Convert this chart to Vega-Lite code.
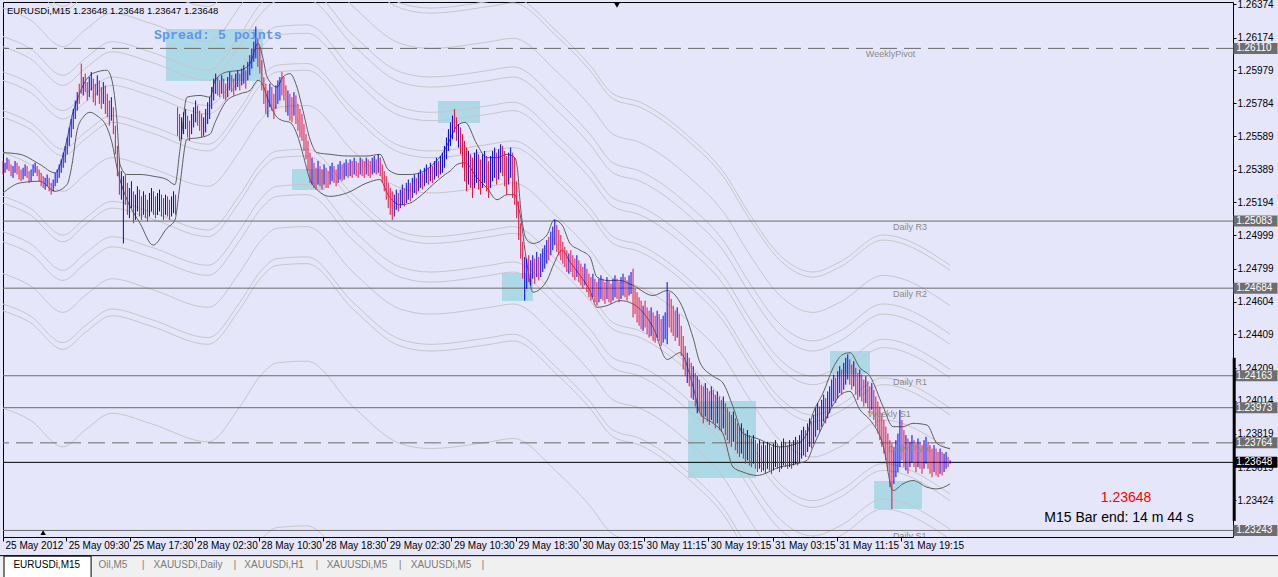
{
  "$schema": "https://vega.github.io/schema/vega-lite/v6.json",
  "width": 1230,
  "height": 535,
  "autosize": {"type": "none"},
  "padding": {"left": 3, "top": 2, "right": 45, "bottom": 40},
  "background": "#E6E6FA",
  "config": {
    "font": "Liberation Sans",
    "view": {"fill": "#E6E6FA", "stroke": "#000000", "strokeWidth": 1},
    "axis": {"labelOverlap": false, "labelFlush": false, "labelBound": false, "title": null, "grid": false}
  },
  "datasets": {
    "bars": [
      {"i":0,"h":1.2544,"l":1.2536,"u":0},{"i":1,"h":1.2543,"l":1.2537,"u":1},{"i":2,"h":1.2546,"l":1.2539,"u":1},{"i":3,"h":1.2545,"l":1.2538,"u":0},
      {"i":4,"h":1.2542,"l":1.2535,"u":0},{"i":5,"h":1.2541,"l":1.2534,"u":1},{"i":6,"h":1.2544,"l":1.2537,"u":1},{"i":7,"h":1.2543,"l":1.2536,"u":0},
      {"i":8,"h":1.2541,"l":1.2533,"u":0},{"i":9,"h":1.2539,"l":1.2532,"u":0},{"i":10,"h":1.2540,"l":1.2533,"u":1},{"i":11,"h":1.2542,"l":1.2535,"u":1},
      {"i":12,"h":1.2541,"l":1.2534,"u":0},{"i":13,"h":1.2538,"l":1.2531,"u":0},{"i":14,"h":1.2539,"l":1.2532,"u":1},{"i":15,"h":1.2542,"l":1.2535,"u":1},
      {"i":16,"h":1.2543,"l":1.2537,"u":1},{"i":17,"h":1.2541,"l":1.2535,"u":0},{"i":18,"h":1.2539,"l":1.2532,"u":0},{"i":19,"h":1.2537,"l":1.2529,"u":0},
      {"i":20,"h":1.2535,"l":1.2528,"u":0},{"i":21,"h":1.2534,"l":1.2527,"u":1},{"i":22,"h":1.2536,"l":1.2529,"u":1},{"i":23,"h":1.2534,"l":1.2526,"u":0},
      {"i":24,"h":1.2531,"l":1.2524,"u":0},{"i":25,"h":1.2533,"l":1.2526,"u":1},{"i":26,"h":1.2537,"l":1.2529,"u":1},{"i":27,"h":1.2539,"l":1.2531,"u":1},
      {"i":28,"h":1.2542,"l":1.2534,"u":1},{"i":29,"h":1.2545,"l":1.2537,"u":1},{"i":30,"h":1.2549,"l":1.2540,"u":1},{"i":31,"h":1.2553,"l":1.2543,"u":1},
      {"i":32,"h":1.2558,"l":1.2548,"u":1},{"i":33,"h":1.2564,"l":1.2553,"u":1},{"i":34,"h":1.2569,"l":1.2558,"u":1},{"i":35,"h":1.2575,"l":1.2563,"u":1},
      {"i":36,"h":1.2580,"l":1.2569,"u":1},{"i":37,"h":1.2585,"l":1.2574,"u":1},{"i":38,"h":1.2590,"l":1.2578,"u":0},{"i":39,"h":1.2602,"l":1.2584,"u":0},
      {"i":40,"h":1.2594,"l":1.2583,"u":1},{"i":41,"h":1.2596,"l":1.2585,"u":0},{"i":42,"h":1.2591,"l":1.2580,"u":0},{"i":43,"h":1.2594,"l":1.2582,"u":1},
      {"i":44,"h":1.2597,"l":1.2586,"u":1},{"i":45,"h":1.2593,"l":1.2579,"u":0},{"i":46,"h":1.2590,"l":1.2577,"u":0},{"i":47,"h":1.2595,"l":1.2583,"u":1},
      {"i":48,"h":1.2592,"l":1.2578,"u":0},{"i":49,"h":1.2588,"l":1.2575,"u":0},{"i":50,"h":1.2591,"l":1.2578,"u":1},{"i":51,"h":1.2589,"l":1.2572,"u":0},
      {"i":52,"h":1.2584,"l":1.2570,"u":0},{"i":53,"h":1.2580,"l":1.2565,"u":0},{"i":54,"h":1.2582,"l":1.2568,"u":1},{"i":55,"h":1.2576,"l":1.2560,"u":0},
      {"i":56,"h":1.2565,"l":1.2548,"u":0},{"i":57,"h":1.2553,"l":1.2535,"u":0},{"i":58,"h":1.2545,"l":1.2524,"u":0},{"i":59,"h":1.2538,"l":1.2521,"u":1},
      {"i":60,"h":1.2535,"l":1.2495,"u":1},{"i":61,"h":1.2536,"l":1.2518,"u":0},{"i":62,"h":1.2531,"l":1.2512,"u":0},{"i":63,"h":1.2528,"l":1.2510,"u":1},
      {"i":64,"h":1.2532,"l":1.2516,"u":1},{"i":65,"h":1.2526,"l":1.2507,"u":0},{"i":66,"h":1.2524,"l":1.2509,"u":1},{"i":67,"h":1.2529,"l":1.2514,"u":1},
      {"i":68,"h":1.2527,"l":1.2511,"u":0},{"i":69,"h":1.2523,"l":1.2509,"u":0},{"i":70,"h":1.2526,"l":1.2512,"u":1},{"i":71,"h":1.2524,"l":1.2510,"u":0},
      {"i":72,"h":1.2521,"l":1.2508,"u":0},{"i":73,"h":1.2525,"l":1.2511,"u":1},{"i":74,"h":1.2528,"l":1.2514,"u":1},{"i":75,"h":1.2526,"l":1.2512,"u":0},
      {"i":76,"h":1.2523,"l":1.2510,"u":0},{"i":77,"h":1.2525,"l":1.2512,"u":1},{"i":78,"h":1.2527,"l":1.2514,"u":1},{"i":79,"h":1.2524,"l":1.2511,"u":0},
      {"i":80,"h":1.2522,"l":1.2509,"u":0},{"i":81,"h":1.2524,"l":1.2512,"u":1},{"i":82,"h":1.2523,"l":1.2511,"u":0},{"i":83,"h":1.2521,"l":1.2509,"u":0},
      {"i":84,"h":1.2523,"l":1.2511,"u":1},{"i":85,"h":1.2526,"l":1.2513,"u":1},{"i":86,"h":1.2524,"l":1.2512,"u":0},{"i":87,"h":1.2576,"l":1.2559,"u":0},
      {"i":88,"h":1.2572,"l":1.2556,"u":0},{"i":89,"h":1.2570,"l":1.2557,"u":1},{"i":90,"h":1.2573,"l":1.2560,"u":1},{"i":91,"h":1.2575,"l":1.2563,"u":1},
      {"i":92,"h":1.2571,"l":1.2558,"u":0},{"i":93,"h":1.2568,"l":1.2556,"u":0},{"i":94,"h":1.2572,"l":1.2560,"u":1},{"i":95,"h":1.2576,"l":1.2564,"u":1},
      {"i":96,"h":1.2580,"l":1.2567,"u":1},{"i":97,"h":1.2577,"l":1.2565,"u":0},{"i":98,"h":1.2574,"l":1.2562,"u":0},{"i":99,"h":1.2572,"l":1.2558,"u":0},
      {"i":100,"h":1.2570,"l":1.2559,"u":1},{"i":101,"h":1.2575,"l":1.2561,"u":1},{"i":102,"h":1.2579,"l":1.2566,"u":1},{"i":103,"h":1.2582,"l":1.2569,"u":1},
      {"i":104,"h":1.2588,"l":1.2575,"u":1},{"i":105,"h":1.2593,"l":1.2580,"u":1},{"i":106,"h":1.2596,"l":1.2584,"u":1},{"i":107,"h":1.2594,"l":1.2583,"u":0},
      {"i":108,"h":1.2592,"l":1.2582,"u":0},{"i":109,"h":1.2595,"l":1.2584,"u":1},{"i":110,"h":1.2593,"l":1.2581,"u":0},{"i":111,"h":1.2590,"l":1.2580,"u":0},
      {"i":112,"h":1.2594,"l":1.2582,"u":1},{"i":113,"h":1.2597,"l":1.2586,"u":1},{"i":114,"h":1.2595,"l":1.2585,"u":0},{"i":115,"h":1.2593,"l":1.2583,"u":0},
      {"i":116,"h":1.2596,"l":1.2586,"u":1},{"i":117,"h":1.2598,"l":1.2588,"u":1},{"i":118,"h":1.2596,"l":1.2586,"u":0},{"i":119,"h":1.2599,"l":1.2589,"u":1},
      {"i":120,"h":1.2601,"l":1.2590,"u":1},{"i":121,"h":1.2598,"l":1.2587,"u":0},{"i":122,"h":1.2603,"l":1.2592,"u":1},{"i":123,"h":1.2607,"l":1.2595,"u":1},
      {"i":124,"h":1.2611,"l":1.2599,"u":1},{"i":125,"h":1.2615,"l":1.2603,"u":1},{"i":126,"h":1.2624,"l":1.2605,"u":1},{"i":127,"h":1.2617,"l":1.2600,"u":0},
      {"i":128,"h":1.2612,"l":1.2596,"u":0},{"i":129,"h":1.2604,"l":1.2586,"u":0},{"i":130,"h":1.2594,"l":1.2578,"u":0},{"i":131,"h":1.2590,"l":1.2572,"u":0},
      {"i":132,"h":1.2586,"l":1.2570,"u":1},{"i":133,"h":1.2590,"l":1.2576,"u":1},{"i":134,"h":1.2588,"l":1.2574,"u":0},{"i":135,"h":1.2584,"l":1.2569,"u":0},
      {"i":136,"h":1.2589,"l":1.2575,"u":1},{"i":137,"h":1.2592,"l":1.2578,"u":1},{"i":138,"h":1.2594,"l":1.2580,"u":1},{"i":139,"h":1.2597,"l":1.2583,"u":0},
      {"i":140,"h":1.2594,"l":1.2580,"u":0},{"i":141,"h":1.2589,"l":1.2573,"u":0},{"i":142,"h":1.2586,"l":1.2571,"u":1},{"i":143,"h":1.2584,"l":1.2568,"u":0},
      {"i":144,"h":1.2582,"l":1.2567,"u":0},{"i":145,"h":1.2585,"l":1.2571,"u":1},{"i":146,"h":1.2583,"l":1.2566,"u":0},{"i":147,"h":1.2578,"l":1.2562,"u":0},
      {"i":148,"h":1.2575,"l":1.2558,"u":0},{"i":149,"h":1.2572,"l":1.2556,"u":0},{"i":150,"h":1.2566,"l":1.2550,"u":0},{"i":151,"h":1.2560,"l":1.2545,"u":0},
      {"i":152,"h":1.2556,"l":1.2538,"u":0},{"i":153,"h":1.2549,"l":1.2531,"u":0},{"i":154,"h":1.2546,"l":1.2530,"u":1},{"i":155,"h":1.2543,"l":1.2528,"u":0},
      {"i":156,"h":1.2540,"l":1.2527,"u":0},{"i":157,"h":1.2544,"l":1.2530,"u":1},{"i":158,"h":1.2541,"l":1.2529,"u":0},{"i":159,"h":1.2539,"l":1.2527,"u":0},
      {"i":160,"h":1.2542,"l":1.2530,"u":1},{"i":161,"h":1.2540,"l":1.2528,"u":0},{"i":162,"h":1.2538,"l":1.2528,"u":0},{"i":163,"h":1.2541,"l":1.2530,"u":1},
      {"i":164,"h":1.2543,"l":1.2532,"u":1},{"i":165,"h":1.2541,"l":1.2531,"u":0},{"i":166,"h":1.2539,"l":1.2529,"u":0},{"i":167,"h":1.2542,"l":1.2531,"u":1},
      {"i":168,"h":1.2544,"l":1.2533,"u":1},{"i":169,"h":1.2542,"l":1.2532,"u":0},{"i":170,"h":1.2543,"l":1.2533,"u":1},{"i":171,"h":1.2545,"l":1.2535,"u":1},
      {"i":172,"h":1.2543,"l":1.2534,"u":0},{"i":173,"h":1.2545,"l":1.2535,"u":1},{"i":174,"h":1.2544,"l":1.2534,"u":0},{"i":175,"h":1.2546,"l":1.2536,"u":1},
      {"i":176,"h":1.2544,"l":1.2535,"u":0},{"i":177,"h":1.2543,"l":1.2534,"u":0},{"i":178,"h":1.2546,"l":1.2536,"u":1},{"i":179,"h":1.2545,"l":1.2535,"u":0},
      {"i":180,"h":1.2544,"l":1.2534,"u":0},{"i":181,"h":1.2546,"l":1.2536,"u":1},{"i":182,"h":1.2545,"l":1.2535,"u":0},{"i":183,"h":1.2544,"l":1.2534,"u":0},
      {"i":184,"h":1.2546,"l":1.2536,"u":1},{"i":185,"h":1.2547,"l":1.2537,"u":1},{"i":186,"h":1.2545,"l":1.2536,"u":0},{"i":187,"h":1.2548,"l":1.2537,"u":1},
      {"i":188,"h":1.2546,"l":1.2535,"u":0},{"i":189,"h":1.2542,"l":1.2531,"u":0},{"i":190,"h":1.2538,"l":1.2526,"u":0},{"i":191,"h":1.2535,"l":1.2521,"u":0},
      {"i":192,"h":1.2531,"l":1.2516,"u":0},{"i":193,"h":1.2528,"l":1.2512,"u":0},{"i":194,"h":1.2526,"l":1.2509,"u":0},{"i":195,"h":1.2524,"l":1.2511,"u":1},
      {"i":196,"h":1.2527,"l":1.2515,"u":1},{"i":197,"h":1.2525,"l":1.2514,"u":0},{"i":198,"h":1.2527,"l":1.2516,"u":1},{"i":199,"h":1.2530,"l":1.2518,"u":1},
      {"i":200,"h":1.2528,"l":1.2517,"u":0},{"i":201,"h":1.2531,"l":1.2519,"u":1},{"i":202,"h":1.2533,"l":1.2521,"u":1},{"i":203,"h":1.2531,"l":1.2520,"u":0},
      {"i":204,"h":1.2534,"l":1.2522,"u":1},{"i":205,"h":1.2536,"l":1.2525,"u":1},{"i":206,"h":1.2534,"l":1.2524,"u":0},{"i":207,"h":1.2537,"l":1.2526,"u":1},
      {"i":208,"h":1.2539,"l":1.2528,"u":1},{"i":209,"h":1.2537,"l":1.2527,"u":0},{"i":210,"h":1.2540,"l":1.2529,"u":1},{"i":211,"h":1.2542,"l":1.2531,"u":1},
      {"i":212,"h":1.2540,"l":1.2530,"u":0},{"i":213,"h":1.2543,"l":1.2532,"u":1},{"i":214,"h":1.2541,"l":1.2531,"u":0},{"i":215,"h":1.2544,"l":1.2533,"u":1},
      {"i":216,"h":1.2546,"l":1.2535,"u":1},{"i":217,"h":1.2544,"l":1.2534,"u":0},{"i":218,"h":1.2547,"l":1.2536,"u":1},{"i":219,"h":1.2549,"l":1.2537,"u":1},
      {"i":220,"h":1.2553,"l":1.2540,"u":1},{"i":221,"h":1.2558,"l":1.2545,"u":1},{"i":222,"h":1.2563,"l":1.2550,"u":1},{"i":223,"h":1.2567,"l":1.2553,"u":1},
      {"i":224,"h":1.2571,"l":1.2557,"u":1},{"i":225,"h":1.2575,"l":1.2561,"u":0},{"i":226,"h":1.2570,"l":1.2556,"u":0},{"i":227,"h":1.2566,"l":1.2552,"u":1},
      {"i":228,"h":1.2564,"l":1.2548,"u":0},{"i":229,"h":1.2560,"l":1.2540,"u":0},{"i":230,"h":1.2556,"l":1.2532,"u":0},{"i":231,"h":1.2552,"l":1.2526,"u":0},
      {"i":232,"h":1.2550,"l":1.2530,"u":1},{"i":233,"h":1.2548,"l":1.2528,"u":0},{"i":234,"h":1.2546,"l":1.2522,"u":0},{"i":235,"h":1.2549,"l":1.2528,"u":1},
      {"i":236,"h":1.2551,"l":1.2531,"u":1},{"i":237,"h":1.2548,"l":1.2527,"u":0},{"i":238,"h":1.2545,"l":1.2524,"u":0},{"i":239,"h":1.2548,"l":1.2528,"u":1},
      {"i":240,"h":1.2550,"l":1.2531,"u":1},{"i":241,"h":1.2547,"l":1.2526,"u":0},{"i":242,"h":1.2544,"l":1.2522,"u":0},{"i":243,"h":1.2547,"l":1.2528,"u":1},
      {"i":244,"h":1.2550,"l":1.2532,"u":1},{"i":245,"h":1.2552,"l":1.2534,"u":1},{"i":246,"h":1.2549,"l":1.2530,"u":0},{"i":247,"h":1.2551,"l":1.2533,"u":1},
      {"i":248,"h":1.2554,"l":1.2537,"u":1},{"i":249,"h":1.2553,"l":1.2535,"u":0},{"i":250,"h":1.2550,"l":1.2529,"u":0},{"i":251,"h":1.2547,"l":1.2524,"u":0},
      {"i":252,"h":1.2549,"l":1.2530,"u":1},{"i":253,"h":1.2552,"l":1.2534,"u":1},{"i":254,"h":1.2549,"l":1.2522,"u":0},{"i":255,"h":1.2546,"l":1.2518,"u":0},
      {"i":256,"h":1.2532,"l":1.2510,"u":0},{"i":257,"h":1.2520,"l":1.2497,"u":0},{"i":258,"h":1.2507,"l":1.2486,"u":0},{"i":259,"h":1.2496,"l":1.2474,"u":0},
      {"i":260,"h":1.2487,"l":1.2461,"u":1},{"i":261,"h":1.2486,"l":1.2468,"u":1},{"i":262,"h":1.2488,"l":1.2472,"u":0},{"i":263,"h":1.2485,"l":1.2470,"u":1},
      {"i":264,"h":1.2488,"l":1.2474,"u":1},{"i":265,"h":1.2486,"l":1.2471,"u":0},{"i":266,"h":1.2490,"l":1.2475,"u":1},{"i":267,"h":1.2487,"l":1.2473,"u":0},
      {"i":268,"h":1.2489,"l":1.2475,"u":1},{"i":269,"h":1.2492,"l":1.2478,"u":1},{"i":270,"h":1.2494,"l":1.2480,"u":1},{"i":271,"h":1.2497,"l":1.2483,"u":1},
      {"i":272,"h":1.2499,"l":1.2485,"u":0},{"i":273,"h":1.2502,"l":1.2488,"u":1},{"i":274,"h":1.2505,"l":1.2491,"u":1},{"i":275,"h":1.2509,"l":1.2494,"u":1},
      {"i":276,"h":1.2506,"l":1.2490,"u":0},{"i":277,"h":1.2503,"l":1.2488,"u":0},{"i":278,"h":1.2500,"l":1.2485,"u":0},{"i":279,"h":1.2496,"l":1.2483,"u":0},
      {"i":280,"h":1.2493,"l":1.2481,"u":0},{"i":281,"h":1.2491,"l":1.2478,"u":0},{"i":282,"h":1.2489,"l":1.2477,"u":1},{"i":283,"h":1.2491,"l":1.2478,"u":0},
      {"i":284,"h":1.2488,"l":1.2475,"u":0},{"i":285,"h":1.2486,"l":1.2473,"u":0},{"i":286,"h":1.2488,"l":1.2475,"u":1},{"i":287,"h":1.2485,"l":1.2472,"u":0},
      {"i":288,"h":1.2483,"l":1.2470,"u":0},{"i":289,"h":1.2481,"l":1.2468,"u":0},{"i":290,"h":1.2483,"l":1.2470,"u":1},{"i":291,"h":1.2480,"l":1.2466,"u":0},
      {"i":292,"h":1.2477,"l":1.2463,"u":0},{"i":293,"h":1.2475,"l":1.2461,"u":0},{"i":294,"h":1.2477,"l":1.2463,"u":1},{"i":295,"h":1.2474,"l":1.2460,"u":0},
      {"i":296,"h":1.2472,"l":1.2458,"u":0},{"i":297,"h":1.2474,"l":1.2460,"u":1},{"i":298,"h":1.2476,"l":1.2462,"u":1},{"i":299,"h":1.2474,"l":1.2461,"u":0},
      {"i":300,"h":1.2472,"l":1.2459,"u":0},{"i":301,"h":1.2475,"l":1.2462,"u":1},{"i":302,"h":1.2473,"l":1.2460,"u":0},{"i":303,"h":1.2471,"l":1.2459,"u":0},
      {"i":304,"h":1.2474,"l":1.2461,"u":1},{"i":305,"h":1.2476,"l":1.2463,"u":1},{"i":306,"h":1.2474,"l":1.2462,"u":0},{"i":307,"h":1.2472,"l":1.2460,"u":0},
      {"i":308,"h":1.2475,"l":1.2462,"u":1},{"i":309,"h":1.2477,"l":1.2464,"u":1},{"i":310,"h":1.2475,"l":1.2463,"u":0},{"i":311,"h":1.2473,"l":1.2461,"u":0},
      {"i":312,"h":1.2476,"l":1.2464,"u":1},{"i":313,"h":1.2478,"l":1.2465,"u":1},{"i":314,"h":1.2480,"l":1.2451,"u":0},{"i":315,"h":1.2468,"l":1.2453,"u":0},
      {"i":316,"h":1.2466,"l":1.2448,"u":0},{"i":317,"h":1.2463,"l":1.2446,"u":0},{"i":318,"h":1.2461,"l":1.2444,"u":0},{"i":319,"h":1.2458,"l":1.2443,"u":1},
      {"i":320,"h":1.2461,"l":1.2445,"u":0},{"i":321,"h":1.2457,"l":1.2441,"u":0},{"i":322,"h":1.2455,"l":1.2439,"u":0},{"i":323,"h":1.2457,"l":1.2440,"u":1},
      {"i":324,"h":1.2454,"l":1.2437,"u":0},{"i":325,"h":1.2452,"l":1.2436,"u":0},{"i":326,"h":1.2455,"l":1.2439,"u":1},{"i":327,"h":1.2453,"l":1.2437,"u":0},
      {"i":328,"h":1.2450,"l":1.2434,"u":0},{"i":329,"h":1.2452,"l":1.2436,"u":1},{"i":330,"h":1.2454,"l":1.2438,"u":1},{"i":331,"h":1.2472,"l":1.2435,"u":1},
      {"i":332,"h":1.2466,"l":1.2445,"u":0},{"i":333,"h":1.2462,"l":1.2442,"u":0},{"i":334,"h":1.2458,"l":1.2440,"u":0},{"i":335,"h":1.2455,"l":1.2437,"u":0},
      {"i":336,"h":1.2457,"l":1.2439,"u":1},{"i":337,"h":1.2453,"l":1.2434,"u":0},{"i":338,"h":1.2446,"l":1.2428,"u":0},{"i":339,"h":1.2440,"l":1.2420,"u":0},
      {"i":340,"h":1.2434,"l":1.2416,"u":0},{"i":341,"h":1.2430,"l":1.2412,"u":1},{"i":342,"h":1.2427,"l":1.2410,"u":0},{"i":343,"h":1.2424,"l":1.2403,"u":0},
      {"i":344,"h":1.2422,"l":1.2402,"u":1},{"i":345,"h":1.2418,"l":1.2398,"u":0},{"i":346,"h":1.2416,"l":1.2394,"u":1},{"i":347,"h":1.2414,"l":1.2395,"u":0},
      {"i":348,"h":1.2411,"l":1.2392,"u":0},{"i":349,"h":1.2410,"l":1.2388,"u":0},{"i":350,"h":1.2412,"l":1.2392,"u":1},{"i":351,"h":1.2409,"l":1.2389,"u":0},
      {"i":352,"h":1.2407,"l":1.2387,"u":0},{"i":353,"h":1.2410,"l":1.2390,"u":1},{"i":354,"h":1.2408,"l":1.2388,"u":0},{"i":355,"h":1.2405,"l":1.2385,"u":0},
      {"i":356,"h":1.2407,"l":1.2388,"u":1},{"i":357,"h":1.2404,"l":1.2384,"u":0},{"i":358,"h":1.2402,"l":1.2383,"u":0},{"i":359,"h":1.2404,"l":1.2385,"u":1},
      {"i":360,"h":1.2400,"l":1.2381,"u":0},{"i":361,"h":1.2397,"l":1.2378,"u":0},{"i":362,"h":1.2395,"l":1.2376,"u":0},{"i":363,"h":1.2393,"l":1.2374,"u":0},
      {"i":364,"h":1.2395,"l":1.2377,"u":1},{"i":365,"h":1.2391,"l":1.2372,"u":0},{"i":366,"h":1.2388,"l":1.2370,"u":0},{"i":367,"h":1.2386,"l":1.2368,"u":0},
      {"i":368,"h":1.2388,"l":1.2370,"u":1},{"i":369,"h":1.2385,"l":1.2367,"u":0},{"i":370,"h":1.2382,"l":1.2364,"u":0},{"i":371,"h":1.2384,"l":1.2366,"u":1},
      {"i":372,"h":1.2381,"l":1.2363,"u":0},{"i":373,"h":1.2379,"l":1.2362,"u":0},{"i":374,"h":1.2381,"l":1.2364,"u":1},{"i":375,"h":1.2378,"l":1.2361,"u":0},
      {"i":376,"h":1.2376,"l":1.2359,"u":0},{"i":377,"h":1.2378,"l":1.2361,"u":1},{"i":378,"h":1.2375,"l":1.2359,"u":0},{"i":379,"h":1.2377,"l":1.2360,"u":1},
      {"i":380,"h":1.2375,"l":1.2358,"u":0},{"i":381,"h":1.2377,"l":1.2361,"u":1},{"i":382,"h":1.2376,"l":1.2360,"u":0},{"i":383,"h":1.2374,"l":1.2358,"u":0},
      {"i":384,"h":1.2376,"l":1.2360,"u":1},{"i":385,"h":1.2378,"l":1.2362,"u":1},{"i":386,"h":1.2376,"l":1.2361,"u":0},{"i":387,"h":1.2374,"l":1.2359,"u":0},
      {"i":388,"h":1.2377,"l":1.2361,"u":1},{"i":389,"h":1.2379,"l":1.2363,"u":1},{"i":390,"h":1.2377,"l":1.2362,"u":0},{"i":391,"h":1.2375,"l":1.2361,"u":0},
      {"i":392,"h":1.2378,"l":1.2362,"u":1},{"i":393,"h":1.2376,"l":1.2361,"u":0},{"i":394,"h":1.2378,"l":1.2363,"u":1},{"i":395,"h":1.2380,"l":1.2364,"u":1},
      {"i":396,"h":1.2378,"l":1.2363,"u":0},{"i":397,"h":1.2381,"l":1.2365,"u":1},{"i":398,"h":1.2384,"l":1.2367,"u":1},{"i":399,"h":1.2386,"l":1.2369,"u":1},
      {"i":400,"h":1.2384,"l":1.2368,"u":0},{"i":401,"h":1.2388,"l":1.2371,"u":1},{"i":402,"h":1.2391,"l":1.2374,"u":1},{"i":403,"h":1.2389,"l":1.2373,"u":0},
      {"i":404,"h":1.2393,"l":1.2376,"u":1},{"i":405,"h":1.2397,"l":1.2380,"u":1},{"i":406,"h":1.2400,"l":1.2384,"u":1},{"i":407,"h":1.2398,"l":1.2383,"u":0},
      {"i":408,"h":1.2402,"l":1.2386,"u":1},{"i":409,"h":1.2405,"l":1.2389,"u":1},{"i":410,"h":1.2403,"l":1.2388,"u":0},{"i":411,"h":1.2407,"l":1.2391,"u":1},
      {"i":412,"h":1.2410,"l":1.2394,"u":1},{"i":413,"h":1.2414,"l":1.2398,"u":1},{"i":414,"h":1.2417,"l":1.2401,"u":1},{"i":415,"h":1.2415,"l":1.2400,"u":0},
      {"i":416,"h":1.2419,"l":1.2403,"u":1},{"i":417,"h":1.2422,"l":1.2406,"u":1},{"i":418,"h":1.2420,"l":1.2405,"u":0},{"i":419,"h":1.2424,"l":1.2408,"u":1},
      {"i":420,"h":1.2427,"l":1.2411,"u":1},{"i":421,"h":1.2429,"l":1.2414,"u":1},{"i":422,"h":1.2426,"l":1.2411,"u":0},{"i":423,"h":1.2423,"l":1.2408,"u":0},
      {"i":424,"h":1.2425,"l":1.2410,"u":1},{"i":425,"h":1.2421,"l":1.2405,"u":0},{"i":426,"h":1.2418,"l":1.2402,"u":0},{"i":427,"h":1.2420,"l":1.2404,"u":1},
      {"i":428,"h":1.2417,"l":1.2401,"u":0},{"i":429,"h":1.2414,"l":1.2398,"u":0},{"i":430,"h":1.2416,"l":1.2400,"u":1},{"i":431,"h":1.2413,"l":1.2397,"u":0},
      {"i":432,"h":1.2410,"l":1.2394,"u":0},{"i":433,"h":1.2412,"l":1.2396,"u":1},{"i":434,"h":1.2408,"l":1.2390,"u":0},{"i":435,"h":1.2404,"l":1.2386,"u":0},
      {"i":436,"h":1.2401,"l":1.2382,"u":0},{"i":437,"h":1.2398,"l":1.2378,"u":0},{"i":438,"h":1.2394,"l":1.2374,"u":0},{"i":439,"h":1.2390,"l":1.2370,"u":0},
      {"i":440,"h":1.2386,"l":1.2366,"u":0},{"i":441,"h":1.2382,"l":1.2360,"u":0},{"i":442,"h":1.2378,"l":1.2350,"u":0},{"i":443,"h":1.2376,"l":1.2337,"u":0},
      {"i":444,"h":1.2374,"l":1.2352,"u":1},{"i":445,"h":1.2378,"l":1.2356,"u":1},{"i":446,"h":1.2382,"l":1.2359,"u":1},{"i":447,"h":1.2396,"l":1.2362,"u":1},
      {"i":448,"h":1.2390,"l":1.2366,"u":0},{"i":449,"h":1.2384,"l":1.2362,"u":0},{"i":450,"h":1.2381,"l":1.2360,"u":1},{"i":451,"h":1.2379,"l":1.2358,"u":0},
      {"i":452,"h":1.2377,"l":1.2362,"u":1},{"i":453,"h":1.2381,"l":1.2365,"u":1},{"i":454,"h":1.2378,"l":1.2362,"u":0},{"i":455,"h":1.2376,"l":1.2359,"u":0},
      {"i":456,"h":1.2379,"l":1.2362,"u":1},{"i":457,"h":1.2377,"l":1.2361,"u":0},{"i":458,"h":1.2375,"l":1.2358,"u":0},{"i":459,"h":1.2378,"l":1.2361,"u":1},
      {"i":460,"h":1.2380,"l":1.2364,"u":1},{"i":461,"h":1.2377,"l":1.2361,"u":0},{"i":462,"h":1.2375,"l":1.2358,"u":0},{"i":463,"h":1.2373,"l":1.2356,"u":0},
      {"i":464,"h":1.2375,"l":1.2359,"u":1},{"i":465,"h":1.2373,"l":1.2357,"u":0},{"i":466,"h":1.2371,"l":1.2356,"u":0},{"i":467,"h":1.2373,"l":1.2358,"u":1},
      {"i":468,"h":1.2371,"l":1.2357,"u":0},{"i":469,"h":1.2370,"l":1.2359,"u":1},{"i":470,"h":1.2371,"l":1.2361,"u":1},{"i":471,"h":1.2368,"l":1.2362,"u":0},
      {"i":472,"h":1.2366,"l":1.2364,"u":1}
    ],
    "env": [
      {"i":0,"e0":1.2659,"e1":1.2656,"e2":1.2635,"e3":1.2618,"e4":1.2612,"e5":1.2597,"e6":1.2592,"e7":1.2574,"e8":1.2570,"e9":1.2549,"e10":1.2523,"e11":1.2519,"e12":1.2502,"e13":1.2496,"e14":1.2477,"e15":1.2459,"e16":1.2455,"e17":1.2397,"e18":1.2299},
      {"i":13.5,"e0":1.2652,"e1":1.2649,"e2":1.2628,"e3":1.2611,"e4":1.2605,"e5":1.2590,"e6":1.2585,"e7":1.2567,"e8":1.2563,"e9":1.2542,"e10":1.2516,"e11":1.2512,"e12":1.2495,"e13":1.2489,"e14":1.2470,"e15":1.2452,"e16":1.2448,"e17":1.2390,"e18":1.2292},
      {"i":29.9,"e0":1.2636,"e1":1.2633,"e2":1.2612,"e3":1.2595,"e4":1.2589,"e5":1.2574,"e6":1.2569,"e7":1.2551,"e8":1.2547,"e9":1.2526,"e10":1.2500,"e11":1.2496,"e12":1.2479,"e13":1.2473,"e14":1.2454,"e15":1.2436,"e16":1.2432,"e17":1.2374,"e18":1.2276},
      {"i":40.9,"e0":1.2646,"e1":1.2643,"e2":1.2622,"e3":1.2605,"e4":1.2599,"e5":1.2584,"e6":1.2579,"e7":1.2561,"e8":1.2557,"e9":1.2536,"e10":1.2510,"e11":1.2506,"e12":1.2489,"e13":1.2483,"e14":1.2464,"e15":1.2446,"e16":1.2442,"e17":1.2384,"e18":1.2286},
      {"i":54.3,"e0":1.2656,"e1":1.2653,"e2":1.2632,"e3":1.2615,"e4":1.2609,"e5":1.2594,"e6":1.2589,"e7":1.2571,"e8":1.2567,"e9":1.2546,"e10":1.2520,"e11":1.2516,"e12":1.2499,"e13":1.2493,"e14":1.2474,"e15":1.2456,"e16":1.2452,"e17":1.2394,"e18":1.2296},
      {"i":73.3,"e0":1.2650,"e1":1.2647,"e2":1.2626,"e3":1.2609,"e4":1.2603,"e5":1.2588,"e6":1.2583,"e7":1.2565,"e8":1.2561,"e9":1.2540,"e10":1.2514,"e11":1.2510,"e12":1.2493,"e13":1.2487,"e14":1.2468,"e15":1.2450,"e16":1.2446,"e17":1.2388,"e18":1.2290},
      {"i":102.2,"e0":1.2639,"e1":1.2636,"e2":1.2615,"e3":1.2598,"e4":1.2592,"e5":1.2577,"e6":1.2572,"e7":1.2554,"e8":1.2550,"e9":1.2529,"e10":1.2503,"e11":1.2499,"e12":1.2482,"e13":1.2476,"e14":1.2457,"e15":1.2439,"e16":1.2435,"e17":1.2377,"e18":1.2279},
      {"i":118.1,"e0":1.2660,"e1":1.2657,"e2":1.2636,"e3":1.2619,"e4":1.2613,"e5":1.2598,"e6":1.2593,"e7":1.2575,"e8":1.2571,"e9":1.2550,"e10":1.2524,"e11":1.2520,"e12":1.2503,"e13":1.2497,"e14":1.2478,"e15":1.2460,"e16":1.2456,"e17":1.2398,"e18":1.2300},
      {"i":128.1,"e0":1.2678,"e1":1.2675,"e2":1.2654,"e3":1.2637,"e4":1.2631,"e5":1.2616,"e6":1.2611,"e7":1.2593,"e8":1.2589,"e9":1.2568,"e10":1.2542,"e11":1.2538,"e12":1.2521,"e13":1.2515,"e14":1.2496,"e15":1.2478,"e16":1.2474,"e17":1.2416,"e18":1.2318},
      {"i":136.6,"e0":1.2686,"e1":1.2683,"e2":1.2662,"e3":1.2645,"e4":1.2639,"e5":1.2624,"e6":1.2619,"e7":1.2601,"e8":1.2597,"e9":1.2576,"e10":1.2550,"e11":1.2546,"e12":1.2529,"e13":1.2523,"e14":1.2504,"e15":1.2486,"e16":1.2482,"e17":1.2424,"e18":1.2326},
      {"i":151.5,"e0":1.2687,"e1":1.2684,"e2":1.2663,"e3":1.2646,"e4":1.2640,"e5":1.2625,"e6":1.2620,"e7":1.2602,"e8":1.2598,"e9":1.2577,"e10":1.2551,"e11":1.2547,"e12":1.2530,"e13":1.2524,"e14":1.2505,"e15":1.2487,"e16":1.2483,"e17":1.2425,"e18":1.2327},
      {"i":174.4,"e0":1.2660,"e1":1.2657,"e2":1.2636,"e3":1.2619,"e4":1.2613,"e5":1.2598,"e6":1.2593,"e7":1.2575,"e8":1.2571,"e9":1.2550,"e10":1.2524,"e11":1.2520,"e12":1.2503,"e13":1.2497,"e14":1.2478,"e15":1.2460,"e16":1.2456,"e17":1.2398,"e18":1.2300},
      {"i":197.9,"e0":1.2638,"e1":1.2635,"e2":1.2614,"e3":1.2597,"e4":1.2591,"e5":1.2576,"e6":1.2571,"e7":1.2553,"e8":1.2549,"e9":1.2528,"e10":1.2502,"e11":1.2498,"e12":1.2481,"e13":1.2475,"e14":1.2456,"e15":1.2438,"e16":1.2434,"e17":1.2376,"e18":1.2278},
      {"i":212.8,"e0":1.2635,"e1":1.2632,"e2":1.2611,"e3":1.2594,"e4":1.2588,"e5":1.2573,"e6":1.2568,"e7":1.2550,"e8":1.2546,"e9":1.2525,"e10":1.2499,"e11":1.2495,"e12":1.2478,"e13":1.2472,"e14":1.2453,"e15":1.2435,"e16":1.2431,"e17":1.2373,"e18":1.2275},
      {"i":242.7,"e0":1.2639,"e1":1.2636,"e2":1.2615,"e3":1.2598,"e4":1.2592,"e5":1.2577,"e6":1.2572,"e7":1.2554,"e8":1.2550,"e9":1.2529,"e10":1.2503,"e11":1.2499,"e12":1.2482,"e13":1.2476,"e14":1.2457,"e15":1.2439,"e16":1.2435,"e17":1.2377,"e18":1.2279},
      {"i":254.2,"e0":1.2641,"e1":1.2638,"e2":1.2617,"e3":1.2600,"e4":1.2594,"e5":1.2579,"e6":1.2574,"e7":1.2556,"e8":1.2552,"e9":1.2531,"e10":1.2505,"e11":1.2501,"e12":1.2484,"e13":1.2478,"e14":1.2459,"e15":1.2441,"e16":1.2437,"e17":1.2379,"e18":1.2281},
      {"i":276.1,"e0":1.2621,"e1":1.2618,"e2":1.2597,"e3":1.2580,"e4":1.2574,"e5":1.2559,"e6":1.2554,"e7":1.2536,"e8":1.2532,"e9":1.2511,"e10":1.2485,"e11":1.2481,"e12":1.2464,"e13":1.2458,"e14":1.2439,"e15":1.2421,"e16":1.2417,"e17":1.2359,"e18":1.2261},
      {"i":292.5,"e0":1.2601,"e1":1.2598,"e2":1.2577,"e3":1.2560,"e4":1.2554,"e5":1.2539,"e6":1.2534,"e7":1.2516,"e8":1.2512,"e9":1.2491,"e10":1.2465,"e11":1.2461,"e12":1.2444,"e13":1.2438,"e14":1.2419,"e15":1.2401,"e16":1.2397,"e17":1.2339,"e18":1.2241},
      {"i":304,"e0":1.2584,"e1":1.2581,"e2":1.2560,"e3":1.2543,"e4":1.2537,"e5":1.2522,"e6":1.2517,"e7":1.2499,"e8":1.2495,"e9":1.2474,"e10":1.2448,"e11":1.2444,"e12":1.2427,"e13":1.2421,"e14":1.2402,"e15":1.2384,"e16":1.2380,"e17":1.2322,"e18":1.2224},
      {"i":317.5,"e0":1.2579,"e1":1.2576,"e2":1.2555,"e3":1.2538,"e4":1.2532,"e5":1.2517,"e6":1.2512,"e7":1.2494,"e8":1.2490,"e9":1.2469,"e10":1.2443,"e11":1.2439,"e12":1.2422,"e13":1.2416,"e14":1.2397,"e15":1.2379,"e16":1.2375,"e17":1.2317,"e18":1.2219},
      {"i":342.4,"e0":1.2558,"e1":1.2555,"e2":1.2534,"e3":1.2517,"e4":1.2511,"e5":1.2496,"e6":1.2491,"e7":1.2473,"e8":1.2469,"e9":1.2448,"e10":1.2422,"e11":1.2418,"e12":1.2401,"e13":1.2395,"e14":1.2376,"e15":1.2358,"e16":1.2354,"e17":1.2296,"e18":1.2198},
      {"i":358.8,"e0":1.2538,"e1":1.2535,"e2":1.2514,"e3":1.2497,"e4":1.2491,"e5":1.2476,"e6":1.2471,"e7":1.2453,"e8":1.2449,"e9":1.2428,"e10":1.2402,"e11":1.2398,"e12":1.2381,"e13":1.2375,"e14":1.2356,"e15":1.2338,"e16":1.2334,"e17":1.2276,"e18":1.2178},
      {"i":372.3,"e0":1.2512,"e1":1.2509,"e2":1.2488,"e3":1.2471,"e4":1.2465,"e5":1.2450,"e6":1.2445,"e7":1.2427,"e8":1.2423,"e9":1.2402,"e10":1.2376,"e11":1.2372,"e12":1.2355,"e13":1.2349,"e14":1.2330,"e15":1.2312,"e16":1.2308,"e17":1.2250,"e18":1.2152},
      {"i":387.2,"e0":1.2488,"e1":1.2485,"e2":1.2464,"e3":1.2447,"e4":1.2441,"e5":1.2426,"e6":1.2421,"e7":1.2403,"e8":1.2399,"e9":1.2378,"e10":1.2352,"e11":1.2348,"e12":1.2331,"e13":1.2325,"e14":1.2306,"e15":1.2288,"e16":1.2284,"e17":1.2226,"e18":1.2128},
      {"i":403.7,"e0":1.2478,"e1":1.2475,"e2":1.2454,"e3":1.2437,"e4":1.2431,"e5":1.2416,"e6":1.2411,"e7":1.2393,"e8":1.2389,"e9":1.2368,"e10":1.2342,"e11":1.2338,"e12":1.2321,"e13":1.2315,"e14":1.2296,"e15":1.2278,"e16":1.2274,"e17":1.2216,"e18":1.2118},
      {"i":417.1,"e0":1.2484,"e1":1.2481,"e2":1.2460,"e3":1.2443,"e4":1.2437,"e5":1.2422,"e6":1.2417,"e7":1.2399,"e8":1.2395,"e9":1.2374,"e10":1.2348,"e11":1.2344,"e12":1.2327,"e13":1.2321,"e14":1.2302,"e15":1.2284,"e16":1.2280,"e17":1.2222,"e18":1.2124},
      {"i":438.6,"e0":1.2500,"e1":1.2497,"e2":1.2476,"e3":1.2459,"e4":1.2453,"e5":1.2438,"e6":1.2433,"e7":1.2415,"e8":1.2411,"e9":1.2390,"e10":1.2364,"e11":1.2360,"e12":1.2343,"e13":1.2337,"e14":1.2318,"e15":1.2300,"e16":1.2296,"e17":1.2238,"e18":1.2140},
      {"i":472,"e0":1.2482,"e1":1.2479,"e2":1.2458,"e3":1.2441,"e4":1.2435,"e5":1.2420,"e6":1.2415,"e7":1.2397,"e8":1.2393,"e9":1.2372,"e10":1.2346,"e11":1.2342,"e12":1.2325,"e13":1.2319,"e14":1.2300,"e15":1.2282,"e16":1.2278,"e17":1.2220,"e18":1.2122}
    ],
    "band": [
      {"i":0,"up":1.2549,"lo":1.2525},{"i":8.5,"up":1.2548,"lo":1.2531},{"i":18.4,"up":1.2542,"lo":1.2532},{"i":25.9,"up":1.2537,"lo":1.2526},
      {"i":31.9,"up":1.2557,"lo":1.2530},{"i":34.4,"up":1.2571,"lo":1.2542},{"i":36.9,"up":1.2580,"lo":1.2562},{"i":39.9,"up":1.2589,"lo":1.2570},
      {"i":43.4,"up":1.2595,"lo":1.2573},{"i":46.8,"up":1.2597,"lo":1.2571},{"i":51.8,"up":1.2598,"lo":1.2564},{"i":54.3,"up":1.2592,"lo":1.2555},
      {"i":56.8,"up":1.2568,"lo":1.2540},{"i":58.3,"up":1.2542,"lo":1.2533},{"i":61.8,"up":1.2536,"lo":1.2521},{"i":68.3,"up":1.2536,"lo":1.2507},
      {"i":74.8,"up":1.2535,"lo":1.2494},{"i":81.7,"up":1.2533,"lo":1.2504},{"i":85.7,"up":1.2530,"lo":1.2509},{"i":88.2,"up":1.2551,"lo":1.2530},
      {"i":91.7,"up":1.2582,"lo":1.2557},{"i":98.2,"up":1.2583,"lo":1.2558},{"i":103.2,"up":1.2582,"lo":1.2560},{"i":105.7,"up":1.2592,"lo":1.2567},
      {"i":111.6,"up":1.2597,"lo":1.2580},{"i":118.1,"up":1.2598,"lo":1.2584},{"i":123.1,"up":1.2602,"lo":1.2586},{"i":127.1,"up":1.2614,"lo":1.2592},
      {"i":129.6,"up":1.2605,"lo":1.2589},{"i":131.6,"up":1.2594,"lo":1.2582},{"i":136.6,"up":1.2588,"lo":1.2570},{"i":139.5,"up":1.2594,"lo":1.2568},
      {"i":143,"up":1.2596,"lo":1.2567},{"i":146.5,"up":1.2588,"lo":1.2560},{"i":149.5,"up":1.2574,"lo":1.2548},{"i":153,"up":1.2557,"lo":1.2533},
      {"i":156.5,"up":1.2549,"lo":1.2527},{"i":163,"up":1.2548,"lo":1.2523},{"i":171.4,"up":1.2547,"lo":1.2525},{"i":181.4,"up":1.2547,"lo":1.2531},
      {"i":187.9,"up":1.2548,"lo":1.2533},{"i":191.9,"up":1.2539,"lo":1.2524},{"i":197.9,"up":1.2536,"lo":1.2518},{"i":202.8,"up":1.2536,"lo":1.2519},
      {"i":207.8,"up":1.2537,"lo":1.2523},{"i":214.3,"up":1.2542,"lo":1.2530},{"i":220.3,"up":1.2551,"lo":1.2536},{"i":222.8,"up":1.2557,"lo":1.2538},
      {"i":226.3,"up":1.2565,"lo":1.2542},{"i":230.3,"up":1.2567,"lo":1.2543},{"i":236.2,"up":1.2554,"lo":1.2534},{"i":241.2,"up":1.2546,"lo":1.2528},
      {"i":246.2,"up":1.2546,"lo":1.2521},{"i":251.2,"up":1.2548,"lo":1.2524},{"i":255.1,"up":1.2546,"lo":1.2524},{"i":256.6,"up":1.2537,"lo":1.2518},
      {"i":257.6,"up":1.2521,"lo":1.2513},{"i":261.1,"up":1.2497,"lo":1.2483},{"i":264.1,"up":1.2495,"lo":1.2466},{"i":271.1,"up":1.2500,"lo":1.2473},
      {"i":274.6,"up":1.2509,"lo":1.2483},{"i":278.6,"up":1.2506,"lo":1.2491},{"i":282.6,"up":1.2495,"lo":1.2484},{"i":287.6,"up":1.2491,"lo":1.2476},
      {"i":292.5,"up":1.2487,"lo":1.2467},{"i":296,"up":1.2475,"lo":1.2457},{"i":301,"up":1.2473,"lo":1.2458},{"i":307.5,"up":1.2473,"lo":1.2461},
      {"i":314,"up":1.2470,"lo":1.2459},{"i":324,"up":1.2464,"lo":1.2445},{"i":331,"up":1.2467,"lo":1.2426},{"i":337.4,"up":1.2460,"lo":1.2430},
      {"i":343.9,"up":1.2439,"lo":1.2410},{"i":347.4,"up":1.2424,"lo":1.2394},{"i":353.9,"up":1.2416,"lo":1.2388},{"i":358.8,"up":1.2412,"lo":1.2382},
      {"i":363.8,"up":1.2398,"lo":1.2362},{"i":368.8,"up":1.2382,"lo":1.2359},{"i":375.8,"up":1.2379,"lo":1.2357},{"i":387.2,"up":1.2374,"lo":1.2362},
      {"i":395.7,"up":1.2376,"lo":1.2364},{"i":400.7,"up":1.2382,"lo":1.2366},{"i":403.7,"up":1.2394,"lo":1.2374},{"i":408.7,"up":1.2406,"lo":1.2387},
      {"i":413.7,"up":1.2421,"lo":1.2399},{"i":418.6,"up":1.2429,"lo":1.2406},{"i":422.1,"up":1.2430,"lo":1.2407},{"i":427.1,"up":1.2421,"lo":1.2396},
      {"i":432.1,"up":1.2416,"lo":1.2390},{"i":438.6,"up":1.2398,"lo":1.2375},{"i":443.6,"up":1.2386,"lo":1.2348},{"i":448.5,"up":1.2386,"lo":1.2352},
      {"i":453.5,"up":1.2388,"lo":1.2354},{"i":460.5,"up":1.2387,"lo":1.2350},{"i":465.5,"up":1.2376,"lo":1.2349},{"i":472,"up":1.2373,"lo":1.2352}
    ],
    "zones": [
      {"x1":81.2,"x2":129.6,"p1":1.26225,"p2":1.25916},
      {"x1":144.0,"x2":160.5,"p1":1.25393,"p2":1.25268},
      {"x1":216.8,"x2":237.7,"p1":1.25797,"p2":1.25666},
      {"x1":248.7,"x2":264.1,"p1":1.24774,"p2":1.24607},
      {"x1":341.4,"x2":375.3,"p1":1.24013,"p2":1.23555},
      {"x1":412.2,"x2":432.1,"p1":1.24310,"p2":1.24173},
      {"x1":434.1,"x2":458.0,"p1":1.23537,"p2":1.23370}
    ],
    "levels": [
      {"p":1.26110,"n":"WeeklyPivot","k":"pivot","t":430},
      {"p":1.25083,"n":"Daily R3","k":"level","t":443.5},
      {"p":1.24684,"n":"Daily R2","k":"level","t":443.5},
      {"p":1.24163,"n":"Daily R1","k":"level","t":443.5},
      {"p":1.23973,"n":"Weekly S1","k":"level","t":431},
      {"p":1.23764,"n":"Daily Pivot","k":"pivot","t":441},
      {"p":1.23243,"n":"Daily S1","k":"level","t":443.5},
      {"p":1.23648,"n":"","k":"bid","t":443.5}
    ],
    "boxes": [
      {"p":1.26110,"s":"1.26110","k":"line"},
      {"p":1.25083,"s":"1.25083","k":"line"},
      {"p":1.24684,"s":"1.24684","k":"line"},
      {"p":1.24163,"s":"1.24163","k":"line"},
      {"p":1.23973,"s":"1.23973","k":"line"},
      {"p":1.23764,"s":"1.23764","k":"line"},
      {"p":1.23243,"s":"1.23243","k":"line"},
      {"p":1.23648,"s":"1.23648","k":"bid"}
    ]
  },
  "layer": [
    {
      "data": {"values": [{}]},
      "mark": {"type": "rect", "fill": "#F0F0F0"},
      "encoding": {
        "x": {
          "datum": -2, "type": "quantitative",
          "scale": {"domain": [0, 613], "nice": false, "zero": false},
          "axis": {
            "orient": "bottom", "title": null, "grid": false, "domain": false, "tickCount": 40,
            "values": [0, 31.5, 63.5, 95.5, 127.5, 159.5, 191.5, 223.5, 255.5, 287.5, 319.5, 351.5, 383.5, 415.5, 447.5],
            "labelExpr": "['25 May 2012','25 May 09:30','25 May 17:30','28 May 02:30','28 May 10:30','28 May 18:30','29 May 02:30','29 May 10:30','29 May 18:30','30 May 03:15','30 May 11:15','30 May 19:15','31 May 03:15','31 May 11:15','31 May 19:15'][round((datum.value + 0.5) / 32)]",
            "labelAlign": "left", "labelBaseline": "top", "labelOffset": 2, "labelPadding": -1,
            "tickSize": 4, "tickColor": "#000000", "labelColor": "#000000",
            "labelFont": "Liberation Sans", "labelFontSize": 10, "labelOverlap": false, "labelFlush": false
          }
        },
        "x2": {"datum": 640},
        "y": {
          "datum": 1.23090, "type": "quantitative",
          "scale": {"domain": [1.23204, 1.26386], "nice": false, "zero": false},
          "axis": {
            "orient": "right", "title": null, "grid": false, "domain": false, "tickCount": 40,
            "values": [1.26374, 1.26174, 1.25979, 1.25784, 1.25589, 1.25389, 1.25194, 1.24999, 1.24799, 1.24604, 1.24409, 1.24209, 1.24014, 1.23819, 1.23619, 1.23424],
            "format": ".5f", "tickSize": 3, "tickColor": "#000000", "labelPadding": 1,
            "labelColor": "#000000", "labelFont": "Liberation Sans", "labelFontSize": 10,
            "labelBaseline": "middle", "labelAlign": "left", "labelOverlap": false, "labelFlush": false
          }
        },
        "y2": {"datum": 1.2290}
      }
    },
    {
      "data": {"name": "zones"},
      "mark": {"type": "rect", "fill": "#ADD8E6"},
      "encoding": {
        "x": {"field": "x1", "type": "quantitative"},
        "x2": {"field": "x2"},
        "y": {"field": "p1", "type": "quantitative"},
        "y2": {"field": "p2"}
      }
    },
    {
      "data": {"name": "env"},
      "transform": [{"fold": ["e0","e1","e2","e3","e4","e5","e6","e7","e8","e9","e10","e11","e12","e13","e14","e15","e16","e17","e18"], "as": ["k", "v"]}],
      "mark": {"type": "line", "color": "#C6C6CC", "strokeWidth": 1, "clip": true, "interpolate": "monotone"},
      "encoding": {
        "x": {"field": "i", "type": "quantitative"},
        "y": {"field": "v", "type": "quantitative"},
        "detail": {"field": "k"}
      }
    },
    {
      "data": {"name": "levels"},
      "transform": [{"filter": "datum.k == 'level'"}],
      "mark": {"type": "rule", "strokeWidth": 1, "color": "#6B6B6B"},
      "encoding": {"y": {"field": "p", "type": "quantitative"}}
    },
    {
      "data": {"name": "levels"},
      "transform": [{"filter": "datum.k == 'pivot'"}],
      "mark": {"type": "rule", "strokeWidth": 1, "color": "#6B6B6B", "strokeDash": [17, 7]},
      "encoding": {"y": {"field": "p", "type": "quantitative"}}
    },
    {
      "data": {"name": "levels"},
      "transform": [{"filter": "datum.k == 'bid'"}],
      "mark": {"type": "rule", "strokeWidth": 1, "color": "#000000"},
      "encoding": {"y": {"field": "p", "type": "quantitative"}}
    },
    {
      "data": {"name": "band"},
      "transform": [{"fold": ["up", "lo"], "as": ["k", "v"]}],
      "mark": {"type": "line", "color": "#5E5E5E", "strokeWidth": 1, "clip": true, "interpolate": "monotone"},
      "encoding": {
        "x": {"field": "i", "type": "quantitative"},
        "y": {"field": "v", "type": "quantitative"},
        "detail": {"field": "k"}
      }
    },
    {
      "data": {"name": "bars"},
      "transform": [{"filter": "datum.u == 0"}],
      "mark": {"type": "rule", "strokeWidth": 1, "color": "#E8103F"},
      "encoding": {
        "x": {"field": "i", "type": "quantitative"},
        "y": {"field": "l", "type": "quantitative"},
        "y2": {"field": "h"}
      }
    },
    {
      "data": {"name": "bars"},
      "transform": [{"filter": "datum.u == 1"}],
      "mark": {"type": "rule", "strokeWidth": 1, "color": "#0000FF"},
      "encoding": {
        "x": {"field": "i", "type": "quantitative"},
        "y": {"field": "l", "type": "quantitative"},
        "y2": {"field": "h"}
      }
    },
    {
      "data": {"name": "levels"},
      "transform": [{"filter": "datum.n != ''"}],
      "mark": {"type": "text", "align": "left", "baseline": "middle", "dy": 6, "fontSize": 9, "color": "#8A8A8A", "clip": true},
      "encoding": {
        "x": {"field": "t", "type": "quantitative"},
        "y": {"field": "p", "type": "quantitative"},
        "text": {"field": "n"}
      }
    },
    {
      "data": {"name": "boxes"},
      "transform": [{"filter": "datum.k == 'line'"}],
      "mark": {"type": "tick", "orient": "horizontal", "size": 44, "thickness": 11, "opacity": 1, "color": "#6E6E6E"},
      "encoding": {
        "x": {"datum": 624.2, "type": "quantitative"},
        "y": {"field": "p", "type": "quantitative"}
      }
    },
    {
      "data": {"name": "boxes"},
      "transform": [{"filter": "datum.k == 'bid'"}],
      "mark": {"type": "tick", "orient": "horizontal", "size": 44, "thickness": 11, "opacity": 1, "color": "#000000"},
      "encoding": {
        "x": {"datum": 624.2, "type": "quantitative"},
        "y": {"field": "p", "type": "quantitative"}
      }
    },
    {
      "data": {"name": "boxes"},
      "mark": {"type": "text", "align": "left", "baseline": "middle", "fontSize": 10, "color": "#FFFFFF"},
      "encoding": {
        "x": {"datum": 614.6, "type": "quantitative"},
        "y": {"field": "p", "type": "quantitative"},
        "text": {"field": "s"}
      }
    },
    {
      "data": {"values": [{}]},
      "mark": {"type": "rule", "color": "#000000", "strokeWidth": 3},
      "encoding": {
        "x": {"datum": 613.6, "type": "quantitative"},
        "y": {"datum": 1.2427, "type": "quantitative"},
        "y2": {"datum": 1.2330}
      }
    },
    {
      "data": {"values": [{}]},
      "mark": {"type": "text", "align": "left", "baseline": "middle", "fontSize": 9.5, "color": "#000000", "text": "EURUSDi,M15  1.23648 1.23648 1.23647 1.23648"},
      "encoding": {
        "x": {"datum": 2, "type": "quantitative"},
        "y": {"datum": 1.26334, "type": "quantitative"}
      }
    },
    {
      "data": {"values": [{}]},
      "mark": {"type": "text", "align": "left", "baseline": "middle", "font": "Liberation Mono", "fontSize": 13.3, "fontWeight": "bold", "color": "#6495ED", "text": "Spread: 5 points"},
      "encoding": {
        "x": {"datum": 75.3, "type": "quantitative"},
        "y": {"datum": 1.26190, "type": "quantitative"}
      }
    },
    {
      "data": {"values": [{}]},
      "mark": {"type": "text", "align": "center", "baseline": "middle", "fontSize": 14, "color": "#FF0000", "text": "1.23648"},
      "encoding": {
        "x": {"datum": 559.7, "type": "quantitative"},
        "y": {"datum": 1.23435, "type": "quantitative"}
      }
    },
    {
      "data": {"values": [{}]},
      "mark": {"type": "text", "align": "center", "baseline": "middle", "fontSize": 14, "color": "#000000", "text": "M15 Bar end: 14 m 44 s"},
      "encoding": {
        "x": {"datum": 556.2, "type": "quantitative"},
        "y": {"datum": 1.23316, "type": "quantitative"}
      }
    },
    {
      "data": {"values": [{}]},
      "mark": {"type": "point", "shape": "triangle-down", "filled": true, "size": 30, "color": "#000000", "opacity": 1},
      "encoding": {
        "x": {"datum": 306, "type": "quantitative"},
        "y": {"datum": 1.26366, "type": "quantitative"}
      }
    },
    {
      "data": {"values": [{}]},
      "mark": {"type": "point", "shape": "triangle-up", "filled": true, "size": 30, "color": "#000000", "opacity": 1},
      "encoding": {
        "x": {"datum": 20, "type": "quantitative"},
        "y": {"datum": 1.23230, "type": "quantitative"}
      }
    },
    {
      "data": {"values": [{}]},
      "mark": {"type": "rule", "color": "#000000", "strokeWidth": 1},
      "encoding": {
        "x": {"datum": -2, "type": "quantitative"},
        "x2": {"datum": 640},
        "y": {"datum": 1.23093, "type": "quantitative"}
      }
    },
    {
      "data": {"values": [{}]},
      "mark": {"type": "rect", "fill": "#FFFFFF", "stroke": "#000000", "strokeWidth": 1},
      "encoding": {
        "x": {"datum": 0.5, "type": "quantitative"},
        "x2": {"datum": 43.9},
        "y": {"datum": 1.23090, "type": "quantitative"},
        "y2": {"datum": 1.2290}
      }
    },
    {
      "data": {"values": [{}]},
      "mark": {"type": "text", "align": "center", "baseline": "middle", "fontSize": 10, "color": "#000000", "text": "EURUSDi,M15"},
      "encoding": {"x": {"datum": 21.8, "type": "quantitative"}, "y": {"datum": 1.23036, "type": "quantitative"}}
    },
    {
      "data": {"values": [{}]},
      "mark": {"type": "text", "align": "center", "baseline": "middle", "fontSize": 10, "color": "#7A7A7A", "text": "Oil,M5"},
      "encoding": {"x": {"datum": 54.8, "type": "quantitative"}, "y": {"datum": 1.23036, "type": "quantitative"}}
    },
    {
      "data": {"values": [{}]},
      "mark": {"type": "text", "align": "center", "baseline": "middle", "fontSize": 10, "color": "#7A7A7A", "text": "XAUUSDi,Daily"},
      "encoding": {"x": {"datum": 92.2, "type": "quantitative"}, "y": {"datum": 1.23036, "type": "quantitative"}}
    },
    {
      "data": {"values": [{}]},
      "mark": {"type": "text", "align": "center", "baseline": "middle", "fontSize": 10, "color": "#7A7A7A", "text": "XAUUSDi,H1"},
      "encoding": {"x": {"datum": 135.1, "type": "quantitative"}, "y": {"datum": 1.23036, "type": "quantitative"}}
    },
    {
      "data": {"values": [{}]},
      "mark": {"type": "text", "align": "center", "baseline": "middle", "fontSize": 10, "color": "#7A7A7A", "text": "XAUUSDi,M5"},
      "encoding": {"x": {"datum": 176.4, "type": "quantitative"}, "y": {"datum": 1.23036, "type": "quantitative"}}
    },
    {
      "data": {"values": [{}]},
      "mark": {"type": "text", "align": "center", "baseline": "middle", "fontSize": 10, "color": "#7A7A7A", "text": "XAUUSDi,M5"},
      "encoding": {"x": {"datum": 218.3, "type": "quantitative"}, "y": {"datum": 1.23036, "type": "quantitative"}}
    },
    {
      "data": {"values": [{"s": 69.8}, {"s": 115.6}, {"s": 156.5}, {"s": 197.9}, {"s": 239.2}]},
      "mark": {"type": "text", "align": "center", "baseline": "middle", "fontSize": 11, "color": "#8A8A8A", "text": "|"},
      "encoding": {"x": {"field": "s", "type": "quantitative"}, "y": {"datum": 1.23036, "type": "quantitative"}}
    }
  ]
}
